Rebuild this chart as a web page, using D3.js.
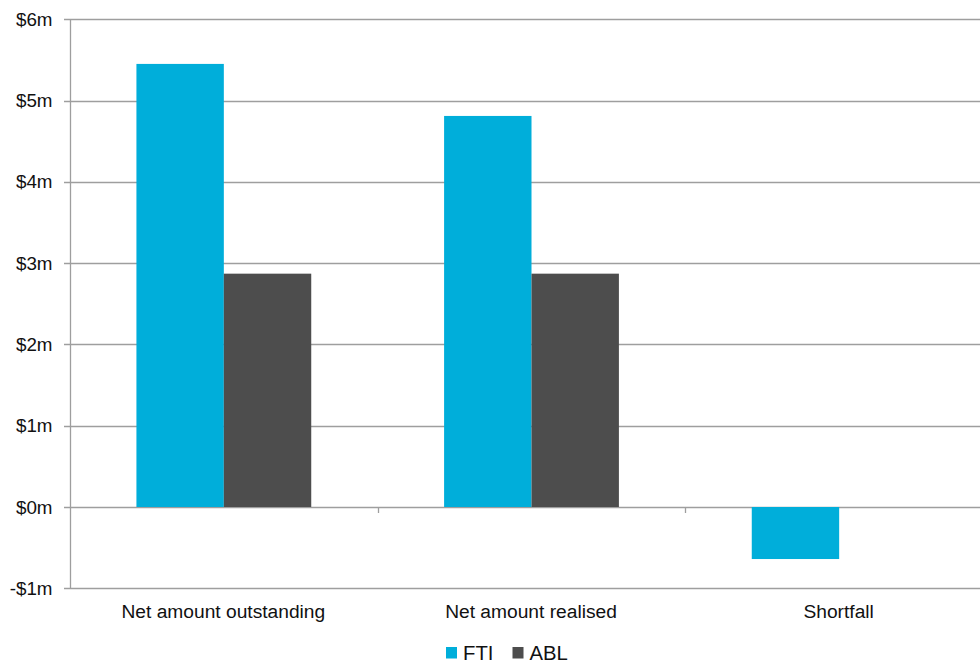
<!DOCTYPE html>
<html>
<head>
<meta charset="utf-8">
<script src="https://cdn.jsdelivr.net/npm/d3@7"></script>
<style>
  html, body { margin: 0; padding: 0; background: #fff; }
  svg { display: block; font-family: "Liberation Sans", Arial, sans-serif; }
</style>
</head>
<body>
<svg id="chart" width="980" height="663"></svg>
<script>
const categories = ["Net amount outstanding", "Net amount realised", "Shortfall"];
const seriesNames = ["FTI", "ABL"];
const ftiValues = [5.45, 4.81, -0.64];
const ablValues = [2.87, 2.87, 0];
const yTicks = [-1, 0, 1, 2, 3, 4, 5, 6];
const colors = { FTI: "#00AEDA", ABL: "#4D4D4D" };

(function () {
const svg = d3.select("#chart");
const plotLeft = 70, plotRight = 993, plotTop = 19.2, plotBottom = 588.3;

const y = d3.scaleLinear().domain([-1, 6]).range([plotBottom, plotTop]);
const x0 = d3.scaleBand().domain(categories).range([plotLeft, plotRight]).padding(0);
const x1 = d3.scaleBand().domain(seriesNames).range([0, x0.bandwidth()]).paddingInner(0).paddingOuter(0.76);

const gridColor = "#9e9e9e";

// gridlines
svg.append("g").selectAll("line").data(yTicks).join("line")
  .attr("x1", plotLeft - 6).attr("x2", 980)
  .attr("y1", d => Math.round(y(d)) + 0.5).attr("y2", d => Math.round(y(d)) + 0.5)
  .attr("stroke", gridColor).attr("stroke-width", 1.3);

// y axis line
svg.append("line")
  .attr("x1", plotLeft + 0.5).attr("x2", plotLeft + 0.5)
  .attr("y1", Math.round(y(6)) + 0.5).attr("y2", Math.round(y(-1)) + 0.5)
  .attr("stroke", gridColor).attr("stroke-width", 1.3);

// y tick labels
svg.append("g").selectAll("text").data(yTicks).join("text")
  .attr("x", 52.5).attr("y", d => y(d))
  .attr("dy", "0.35em")
  .attr("text-anchor", "end")
  .attr("font-size", 18.8)
  .attr("fill", "#111")
  .text(d => (d < 0 ? "-$" + Math.abs(d) : "$" + d) + "m");

// category tick marks (between categories)
const catTicks = categories.slice(1).map(c => x0(c));
svg.append("g").selectAll("line").data(catTicks).join("line")
  .attr("x1", d => Math.round(d) + 0.5).attr("x2", d => Math.round(d) + 0.5)
  .attr("y1", Math.round(y(0))).attr("y2", Math.round(y(0)) + 6)
  .attr("stroke", gridColor).attr("stroke-width", 1.3);

// bars
const data = categories.map((c, i) => ({ cat: c, values: [
  { key: "FTI", value: ftiValues[i] },
  { key: "ABL", value: ablValues[i] }
]}));

const groups = svg.append("g").selectAll("g").data(data).join("g")
  .attr("transform", d => `translate(${x0(d.cat)},0)`);

groups.selectAll("rect").data(d => d.values.filter(v => v.value !== 0)).join("rect")
  .attr("x", d => x1(d.key))
  .attr("width", x1.bandwidth())
  .attr("y", d => y(Math.max(0, d.value)))
  .attr("height", d => Math.abs(y(d.value) - y(0)))
  .attr("fill", d => colors[d.key]);

// category labels
svg.append("g").selectAll("text").data(categories).join("text")
  .attr("x", d => x0(d) + x0.bandwidth() / 2 - 0.5)
  .attr("y", 618)
  .attr("text-anchor", "middle")
  .attr("font-size", 19.2)
  .attr("fill", "#111")
  .text(d => d);

// legend
const legend = svg.append("g");
const legendItems = [
  { key: "FTI", x: 446 },
  { key: "ABL", x: 512.5 }
];
legendItems.forEach(it => {
  legend.append("rect")
    .attr("x", it.x).attr("y", 647)
    .attr("width", 11).attr("height", 11.5)
    .attr("fill", colors[it.key]);
  legend.append("text")
    .attr("x", it.x + 17).attr("y", 660)
    .attr("font-size", 20.3)
    .attr("fill", "#111")
    .text(it.key);
});
})();
</script>
</body>
</html>
